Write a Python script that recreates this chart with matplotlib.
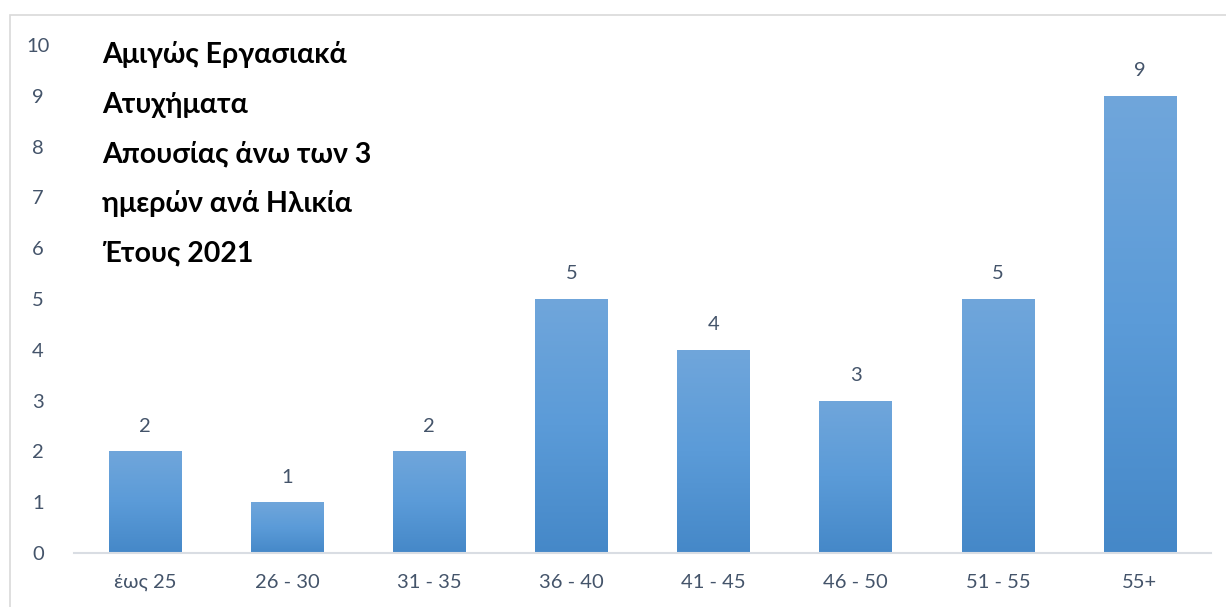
import matplotlib
matplotlib.use("Agg")
import matplotlib.pyplot as plt
import numpy as np
from matplotlib.patches import Rectangle
from matplotlib.colors import LinearSegmentedColormap

plt.rcParams['font.family'] = ['Lato', 'Noto Sans', 'DejaVu Sans']

categories = ["έως 25", "26 - 30", "31 - 35", "36 - 40", "41 - 45", "46 - 50", "51 - 55", "55+"]
values = [2, 1, 2, 5, 4, 3, 5, 9]
yticks = list(range(0, 11))
title_lines = ["Αμιγώς Εργασιακά", "Ατυχήματα", "Απουσίας άνω των 3",
               "ημερών ανά Ηλικία", "Έτους 2021"]

text_color = "#44546a"
cmap = LinearSegmentedColormap.from_list("bar", ["#4588c8", "#5b9bd8", "#70a6db"])

fig = plt.figure(figsize=(12.26, 6.07), dpi=100)
fig.patches.append(Rectangle((10/1226, -0.05), 1.05, 1 - 15/607 + 0.05,
                             transform=fig.transFigure, fill=False,
                             edgecolor="#d9d9d9", linewidth=1.2))
ax = fig.add_axes([74/1226, 1 - 553/607, (1211 - 74)/1226, (553 - 45)/607])

x = np.arange(len(categories))
bars = ax.bar(x, values, width=0.51, color="none")
grad = np.linspace(0, 1, 256).reshape(-1, 1)
for b in bars:
    x0, y0 = b.get_x(), b.get_y()
    w, h = b.get_width(), b.get_height()
    im = ax.imshow(grad, cmap=cmap, aspect="auto", origin="lower",
                   extent=(x0, x0 + w, y0, y0 + h), zorder=2)
    im.set_clip_path(b)

for xi, v in zip(x, values):
    ax.annotate(str(v), (xi, v), xytext=(0, 12), textcoords="offset points",
                ha="center", va="bottom", fontsize=14.5, color=text_color)

ax.set_xlim(-0.5, len(categories) - 0.5)
ax.set_ylim(0, 10)
ax.set_xticks(x)
ax.set_xticklabels(categories)
ax.set_yticks(yticks)
for s in ["top", "right", "left"]:
    ax.spines[s].set_visible(False)
ax.spines["bottom"].set_color("#d9dde3")
ax.spines["bottom"].set_linewidth(1.5)
ax.tick_params(axis="both", length=0, labelsize=14.5, labelcolor=text_color)
ax.tick_params(axis="x", pad=15)
ax.tick_params(axis="y", pad=26)
for lbl in ax.get_yticklabels():
    lbl.set_horizontalalignment("center")

for i, line in enumerate(title_lines):
    fig.text(102/1226, 1 - (55 + i * 49.5)/607, line, fontsize=20.5, fontweight="bold",
             color="black", ha="left", va="center")

fig.savefig("out.png", dpi=100)
